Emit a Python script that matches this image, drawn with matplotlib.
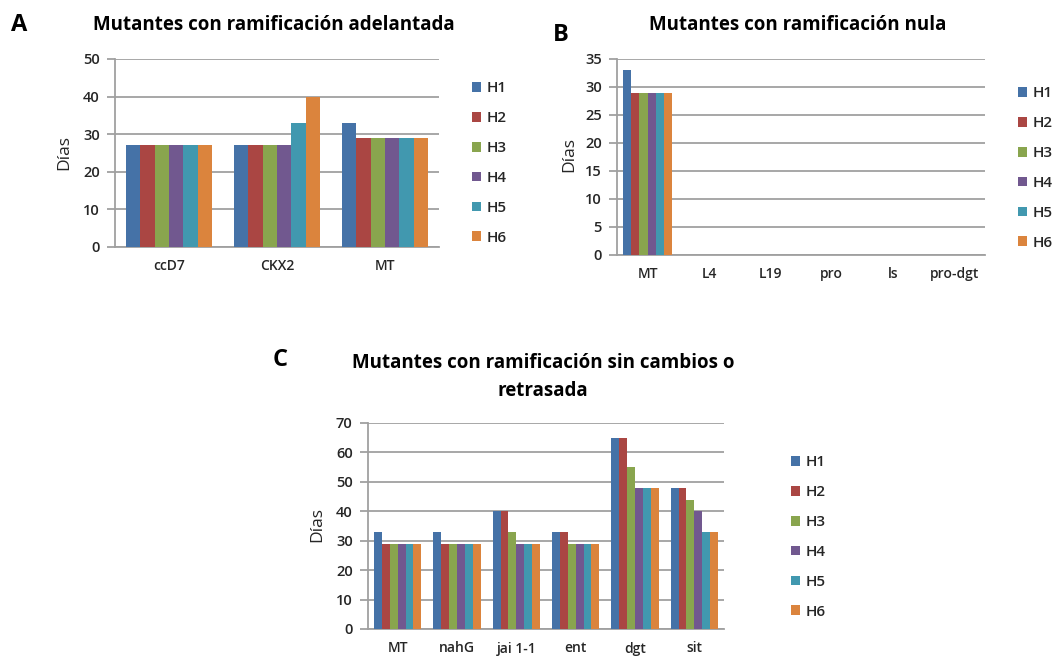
import matplotlib
matplotlib.use("Agg")
import matplotlib.pyplot as plt
import numpy as np

plt.rcParams['font.family'] = ['Open Sans', 'DejaVu Sans']

series = ["H1", "H2", "H3", "H4", "H5", "H6"]
colors = ["#4572A7", "#AA4643", "#89A54E", "#71588F", "#4198AF", "#DB843D"]

cats_a = ["ccD7", "CKX2", "MT"]
vals_a = {
    "H1": [27, 27, 33],
    "H2": [27, 27, 29],
    "H3": [27, 27, 29],
    "H4": [27, 27, 29],
    "H5": [27, 33, 29],
    "H6": [27, 40, 29],
}

cats_b = ["MT", "L4", "L19", "pro", "ls", "pro-dgt"]
vals_b = {
    "H1": [33, 0, 0, 0, 0, 0],
    "H2": [29, 0, 0, 0, 0, 0],
    "H3": [29, 0, 0, 0, 0, 0],
    "H4": [29, 0, 0, 0, 0, 0],
    "H5": [29, 0, 0, 0, 0, 0],
    "H6": [29, 0, 0, 0, 0, 0],
}

cats_c = ["MT", "nahG", "jai 1-1", "ent", "dgt", "sit"]
vals_c = {
    "H1": [33, 33, 40, 33, 65, 48],
    "H2": [29, 29, 40, 33, 65, 48],
    "H3": [29, 29, 33, 29, 55, 44],
    "H4": [29, 29, 29, 29, 48, 40],
    "H5": [29, 29, 29, 29, 48, 33],
    "H6": [29, 29, 29, 29, 48, 33],
}

W, H = 1060, 657
fig = plt.figure(figsize=(W / 100, H / 100), dpi=100)


def rect(l, t, r, b):
    return [l / W, 1 - b / H, (r - l) / W, (b - t) / H]


grid_col = "#A0A0A0"
txt_col = "#262626"


def panel(box, cats, vals, ymax, ystep, title, title_xy, letter, letter_xy,
          ylabel_xy, legend_xy):
    ax = fig.add_axes(rect(*box))
    n = len(cats)
    x = np.arange(n)
    group = 0.8
    bw = group / len(series)
    for i, s in enumerate(series):
        ax.bar(x - group / 2 + bw * (i + 0.5), vals[s], width=bw,
               color=colors[i], label=s, linewidth=0, zorder=3)
    ax.set_xlim(-0.5, n - 0.5)
    ax.set_ylim(0, ymax)
    ax.set_yticks(np.arange(0, ymax + 0.1, ystep))
    ax.set_xticks(x)
    ax.set_xticklabels(cats)
    ax.yaxis.grid(True, color=grid_col, linewidth=1.3, zorder=0)
    ax.set_axisbelow(True)
    for sp in ["top", "right"]:
        ax.spines[sp].set_visible(False)
    ax.spines["left"].set_color(grid_col)
    ax.spines["left"].set_linewidth(1.3)
    ax.spines["bottom"].set_color(grid_col)
    ax.spines["bottom"].set_linewidth(1.3)
    ax.tick_params(axis="y", length=6, color=grid_col, width=1.3,
                   labelsize=10.5, labelcolor=txt_col, pad=5)
    ax.tick_params(axis="x", length=0, labelsize=10, labelcolor=txt_col, pad=9)
    for lab in ax.get_yticklabels() + ax.get_xticklabels():
        lab.set_fontweight("semibold")
    fig.text(ylabel_xy[0] / W, 1 - ylabel_xy[1] / H, "Días", rotation=90,
             ha="center", va="center", fontsize=12.5, color=txt_col)
    fig.text(title_xy[0] / W, 1 - title_xy[1] / H, title, ha="center",
             va="center", fontsize=13.5, fontweight="bold", color="black",
             linespacing=1.55)
    fig.text(letter_xy[0] / W, 1 - letter_xy[1] / H, letter, ha="center",
             va="center", fontsize=17, fontweight="bold", color="black")
    leg = ax.legend(loc="center left",
                    bbox_to_anchor=(legend_xy[0] / W, 1 - legend_xy[1] / H),
                    bbox_transform=fig.transFigure, frameon=False,
                    handlelength=0.6, handleheight=0.6, handletextpad=0.35,
                    labelspacing=1.04, borderpad=0,
                    prop={"size": 11, "weight": "semibold"})
    for t in leg.get_texts():
        t.set_color(txt_col)
    return ax


panel((115, 59, 439, 247), cats_a, vals_a, 50, 10,
      "Mutantes con ramificación adelantada", (274, 25), "A", (19, 25),
      (64, 152), (464, 163))
panel((617, 59, 985, 255), cats_b, vals_b, 35, 5,
      "Mutantes con ramificación nula", (798, 25), "B", (561, 35),
      (569, 155), (1010, 168))
panel((368, 423, 724, 629), cats_c, vals_c, 70, 10,
      "Mutantes con ramificación sin cambios o\nretrasada", (543, 377), "C",
      (280, 360), (317, 525), (783, 537))

fig.savefig("out.png", dpi=100, facecolor="white")
